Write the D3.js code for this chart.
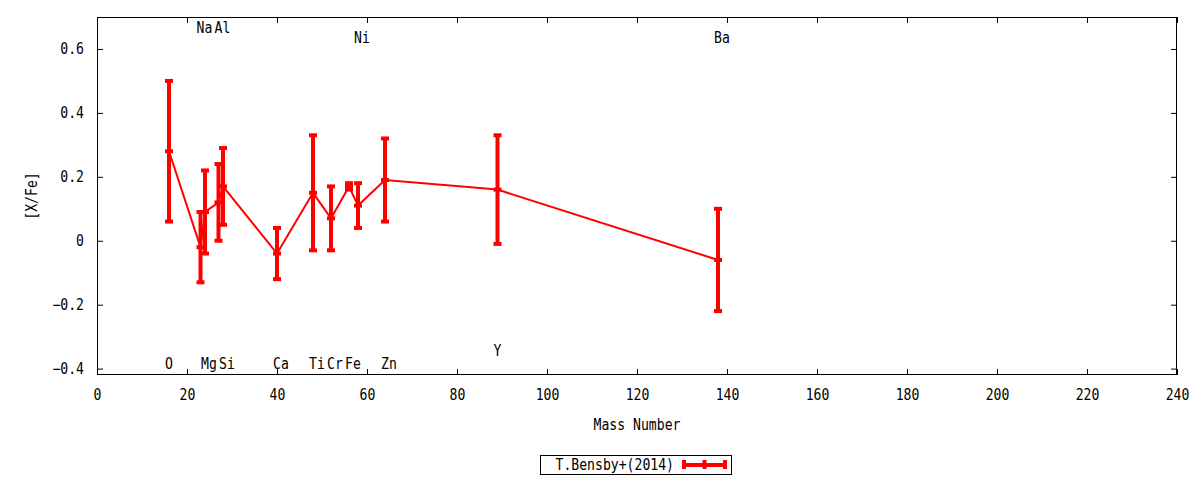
<!DOCTYPE html>
<html><head><meta charset="utf-8">
<script src="https://cdn.jsdelivr.net/npm/d3@7"></script>
<style>
html,body{margin:0;padding:0;background:#fff;}
text{font-family:"DejaVu Sans Mono",monospace;font-size:15px;fill:#000;}
</style></head>
<body><svg id="chart" width="1200" height="480"></svg>
<script>
const elements = ["O","Na","Mg","Al","Si","Ca","Ti","Cr","Fe","Ni","Zn","Y","Ba"];
const massNumbers = [16,23,24,27,28,40,48,52,56,58,64,89,138];
const abundances = [0.28,-0.02,0.09,0.12,0.17,-0.04,0.15,0.07,0.17,0.11,0.19,0.16,-0.06];
const errors = [0.22,0.11,0.13,0.12,0.12,0.08,0.18,0.10,0.01,0.07,0.13,0.17,0.16];
const labelLevels = [-0.38,0.67,-0.38,0.67,-0.38,-0.38,-0.38,-0.38,-0.38,0.64,-0.38,-0.34,0.64];
const xTicks = [0,20,40,60,80,100,120,140,160,180,200,220,240];
const yTicks = [-0.4,-0.2,0,0.2,0.4,0.6];
const seriesName = "T.Bensby+(2014)";

const svg = d3.select("#chart");
const L=97, R=1177, T=17, B=375;
const x = d3.scaleLinear().domain([0,240]).range([L,R]);
const y = d3.scaleLinear().domain([-0.42,0.7]).range([B,T]);
const red = "#ff0000";
const tickLen = 6;
const charW = 7.9;
const fmt = v => (Math.abs(v)<1e-9 ? "0" : d3.format(".1f")(v));

svg.append("g").attr("transform",`translate(0,${B})`)
  .call(d3.axisBottom(x).tickValues(xTicks).tickSize(-tickLen).tickPadding(14).tickFormat(d3.format("d")))
  .call(g=>{g.select(".domain").remove(); g.selectAll("line").attr("stroke","#000");
    g.selectAll("text").attr("font-family","DejaVu Sans Mono").attr("font-size",15).attr("fill","#000");});
svg.append("g").attr("transform",`translate(0,${T})`)
  .call(d3.axisTop(x).tickValues(xTicks).tickSize(-tickLen).tickFormat(""))
  .call(g=>{g.select(".domain").remove(); g.selectAll("line").attr("stroke","#000");});
svg.append("g").attr("transform",`translate(${L},0)`)
  .call(d3.axisLeft(y).tickValues(yTicks).tickSize(-tickLen).tickPadding(13).tickFormat(fmt))
  .call(g=>{g.select(".domain").remove(); g.selectAll("line").attr("stroke","#000");
    g.selectAll("text").attr("font-family","DejaVu Sans Mono").attr("font-size",15).attr("fill","#000");});
svg.append("g").attr("transform",`translate(${R},0)`)
  .call(d3.axisRight(y).tickValues(yTicks).tickSize(-tickLen).tickFormat(""))
  .call(g=>{g.select(".domain").remove(); g.selectAll("line").attr("stroke","#000");});

svg.append("rect").attr("x",L+0.5).attr("y",T+0.5).attr("width",R-L-1).attr("height",B-T-1)
  .attr("fill","none").attr("stroke","#000").attr("stroke-width",1);

svg.append("text").attr("x",(L+R)/2).attr("y",430).attr("text-anchor","middle").text("Mass Number");
svg.append("text").attr("transform",`translate(37,${(T+B)/2}) rotate(-90)`).attr("text-anchor","middle").text("[X/Fe]");

const idx = d3.range(elements.length);
svg.append("g").selectAll("text").data(idx).join("text")
  .attr("x",i=>x(massNumbers[i])-4).attr("y",i=>y(labelLevels[i])+1.5).attr("dy","0.35em")
  .attr("text-anchor","start").text(i=>elements[i]);

const line = d3.line().x(i=>x(massNumbers[i])).y(i=>y(abundances[i]));
svg.append("path").attr("d",line(idx)).attr("fill","none").attr("stroke",red).attr("stroke-width",2);

const capW = 8, capH = 4;
const eb = svg.append("g");
eb.selectAll("line.v").data(idx).join("line").attr("class","v")
  .attr("x1",i=>x(massNumbers[i])).attr("x2",i=>x(massNumbers[i]))
  .attr("y1",i=>y(abundances[i]+errors[i])).attr("y2",i=>y(abundances[i]-errors[i]))
  .attr("stroke",red).attr("stroke-width",4);
[1,-1].forEach(s=>{
  eb.selectAll("line.c"+(s>0?"t":"b")).data(idx).join("line").attr("class","c"+(s>0?"t":"b"))
    .attr("x1",i=>x(massNumbers[i])-capW/2).attr("x2",i=>x(massNumbers[i])+capW/2)
    .attr("y1",i=>y(abundances[i]+s*errors[i])).attr("y2",i=>y(abundances[i]+s*errors[i]))
    .attr("stroke",red).attr("stroke-width",capH);
});
eb.selectAll("line.p").data(idx).join("line").attr("class","p")
  .attr("x1",i=>x(massNumbers[i])-capW/2).attr("x2",i=>x(massNumbers[i])+capW/2)
  .attr("y1",i=>y(abundances[i])).attr("y2",i=>y(abundances[i]))
  .attr("stroke",red).attr("stroke-width",capH);

const lg = svg.append("g");
lg.append("rect").attr("x",540.5).attr("y",455.5).attr("width",191).attr("height",19)
  .attr("fill","none").attr("stroke","#000");
lg.append("text").attr("x",674).attr("y",465).attr("dy","0.35em").attr("text-anchor","end").text(seriesName);
lg.append("line").attr("x1",684).attr("x2",725).attr("y1",465).attr("y2",465).attr("stroke",red).attr("stroke-width",4);
[684,704.5,725].forEach(cx=>lg.append("line").attr("x1",cx).attr("x2",cx).attr("y1",460).attr("y2",469).attr("stroke",red).attr("stroke-width",4));

svg.selectAll("text").each(function(){
  const t = d3.select(this).text();
  if (t.length) d3.select(this).attr("textLength", t.length*charW).attr("lengthAdjust","spacingAndGlyphs");
});
</script></body></html>
